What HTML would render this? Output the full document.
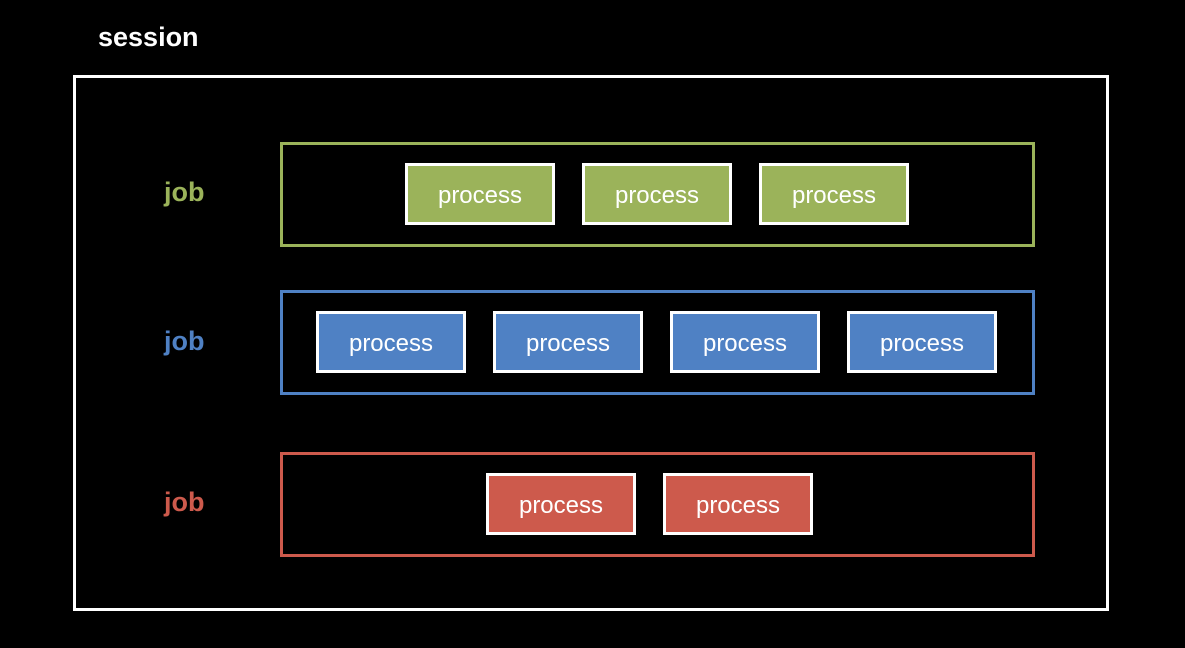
<!DOCTYPE html>
<html><head><style>
body{margin:0;width:1185px;height:648px;background:#000;position:relative;overflow:hidden;font-family:"Liberation Sans",sans-serif}
.a{position:absolute;box-sizing:border-box}
.t{position:absolute;font-weight:bold;font-size:27px}
.p{position:absolute;box-sizing:border-box;border:3px solid #fff;width:150px;height:62px;color:#fff;font-size:24px;display:flex;align-items:center;justify-content:center;padding-top:3px}
.g{background:#9bb35a}.b{background:#4f81c4}.r{background:#cd5a4c}
</style></head><body>
<div class="t" style="left:98px;top:22px;color:#fff">session</div>
<div class="a" style="left:73px;top:75px;width:1036px;height:536px;border:3px solid #fff"></div>

<div class="t" style="left:164px;top:177px;color:#9bb35a">job</div>
<div class="a" style="left:280px;top:142px;width:755px;height:105px;border:3px solid #9bb35a"></div>
<div class="p g" style="left:405px;top:163px">process</div>
<div class="p g" style="left:582px;top:163px">process</div>
<div class="p g" style="left:759px;top:163px">process</div>

<div class="t" style="left:164px;top:326px;color:#4f81c4">job</div>
<div class="a" style="left:280px;top:290px;width:755px;height:105px;border:3px solid #4f81c4"></div>
<div class="p b" style="left:316px;top:311px">process</div>
<div class="p b" style="left:493px;top:311px">process</div>
<div class="p b" style="left:670px;top:311px">process</div>
<div class="p b" style="left:847px;top:311px">process</div>

<div class="t" style="left:164px;top:487px;color:#cd5a4c">job</div>
<div class="a" style="left:280px;top:452px;width:755px;height:105px;border:3px solid #cd5a4c"></div>
<div class="p r" style="left:486px;top:473px">process</div>
<div class="p r" style="left:663px;top:473px">process</div>
</body></html>
